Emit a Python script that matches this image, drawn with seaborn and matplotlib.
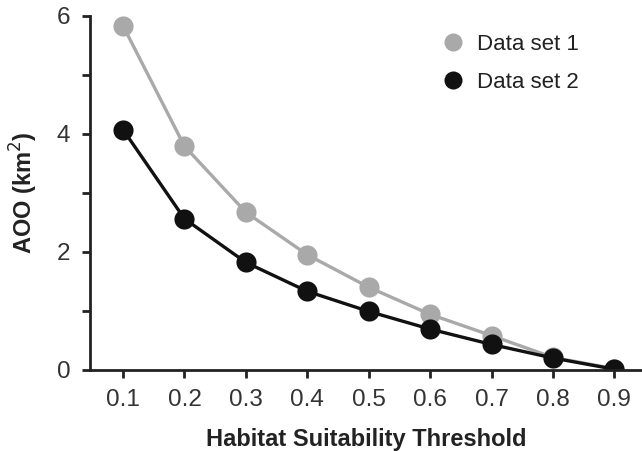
import matplotlib
matplotlib.use("Agg")
import matplotlib.pyplot as plt
import seaborn as sns
import pandas as pd
from matplotlib.ticker import MultipleLocator

# values
thresholds = [0.1, 0.2, 0.3, 0.4, 0.5, 0.6, 0.7, 0.8, 0.9]
set1_aoo = [5.83, 3.79, 2.67, 1.95, 1.40, 0.94, 0.58, 0.21, 0.02]
set2_aoo = [4.07, 2.56, 1.82, 1.33, 0.99, 0.69, 0.43, 0.20, 0.01]
series_names = ["Data set 1", "Data set 2"]
x_ticks = [0.1, 0.2, 0.3, 0.4, 0.5, 0.6, 0.7, 0.8, 0.9]

df = pd.DataFrame({
    "Threshold": thresholds * 2,
    "AOO": set1_aoo + set2_aoo,
    "Series": [series_names[0]] * len(thresholds) + [series_names[1]] * len(thresholds),
})

sns.set_style("ticks")
plt.rcParams["font.family"] = ["Liberation Sans", "DejaVu Sans"]

fig = plt.figure(figsize=(6.42, 4.51), dpi=100)
ax = fig.add_axes([0.140, 0.180, 0.860, 0.785])

palette = {"Data set 1": "#a9a9a9", "Data set 2": "#111111"}
sns.lineplot(data=df, x="Threshold", y="AOO", hue="Series", palette=palette,
             marker="o", markersize=14.5, markeredgewidth=0, linewidth=2.4, ax=ax)

ax.set_xlim(0.046, 0.945)
ax.set_ylim(0, 6)
ax.set_xticks(x_ticks)
ax.set_xticklabels([f"{t:.1f}" for t in x_ticks])
ax.yaxis.set_major_locator(MultipleLocator(2))
ax.yaxis.set_minor_locator(MultipleLocator(1))

for side in ["top", "right"]:
    ax.spines[side].set_visible(False)
for side in ["left", "bottom"]:
    ax.spines[side].set_linewidth(2)
    ax.spines[side].set_color("#222222")

ax.tick_params(axis="both", which="major", length=6, width=2, color="#222222",
               labelsize=17.5, labelcolor="#333333", pad=8)
ax.tick_params(axis="y", which="minor", length=6, width=2, color="#222222")

ax.set_xlabel("Habitat Suitability Threshold", fontsize=17, fontweight="bold",
              color="#222222", labelpad=12)
ax.set_ylabel("AOO (km$^2$)", fontsize=17, fontweight="bold", color="#222222",
              labelpad=12)

leg = ax.legend(loc="upper right", bbox_to_anchor=(0.922, 1.005), frameon=False,
                fontsize=16, handlelength=0.8, handletextpad=0.7, labelspacing=0.75)
for h in leg.legend_handles:
    h.set_linestyle("none")
    h.set_markersize(13)
for t in leg.get_texts():
    t.set_color("#222222")

fig.savefig("out.png", dpi=100)
